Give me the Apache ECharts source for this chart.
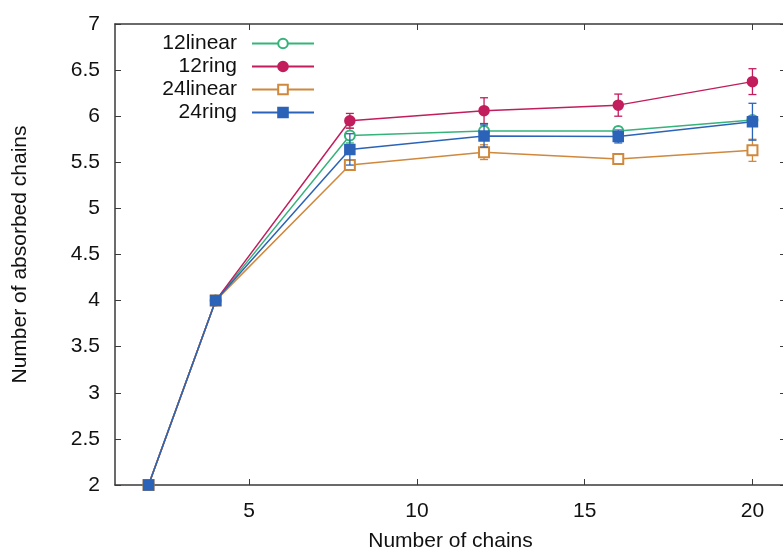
<!DOCTYPE html>
<html>
<head>
<meta charset="utf-8">
<script src="https://cdn.jsdelivr.net/npm/echarts@6/dist/echarts.min.js"></script>
<style>
html,body{margin:0;padding:0;background:#fff;}
#chart{width:783px;height:551px;}
</style>
</head>
<body>
<div id="chart"></div>
<script>
// ---- data ----
const chainCounts = [2, 4, 8, 12, 16, 20];
const linear12 = [2, 4, 5.79, 5.84, 5.84, 5.96];
const ring12 = [2, 4, 5.95, 6.06, 6.12, 6.375];
const linear24 = [2, 4, 5.47, 5.61, 5.535, 5.63];
const ring24 = [2, 4, 5.64, 5.785, 5.78, 5.94];
const linear12Err = [0, 0, 0.08, 0.08, 0.04, 0.04];
const ring12Err = [0, 0, 0.08, 0.14, 0.12, 0.14];
const linear24Err = [0, 0, 0.04, 0.08, 0.03, 0.12];
const ring24Err = [0, 0, 0.17, 0.12, 0.07, 0.2];
const xTicks = [5, 10, 15, 20];
const seriesNames = ['12linear', '12ring', '24linear', '24ring'];

const colors = ['#35b37a', '#c21d5c', '#d0883c', '#2b63b8'];
const symbols = ['emptyCircle', 'circle', 'emptyRect', 'rect'];
const values = [linear12, ring12, linear24, ring24];
const errs = [linear12Err, ring12Err, linear24Err, ring24Err];

const font = 'Liberation Sans, Arial, Helvetica, sans-serif';
const axisColor = '#3a3a3a';

function errRender(color) {
  return function (params, api) {
    const x = api.value(0), y = api.value(1), e = api.value(2);
    if (!e) return null;
    const top = api.coord([x, y + e]);
    const bot = api.coord([x, y - e]);
    const w = 4;
    const style = { stroke: color, lineWidth: 1.3, fill: null };
    return {
      type: 'group',
      children: [
        { type: 'line', shape: { x1: top[0], y1: top[1], x2: bot[0], y2: bot[1] }, style: style },
        { type: 'line', shape: { x1: top[0] - w, y1: top[1], x2: top[0] + w, y2: top[1] }, style: style },
        { type: 'line', shape: { x1: bot[0] - w, y1: bot[1], x2: bot[0] + w, y2: bot[1] }, style: style }
      ]
    };
  };
}

const series = [];
seriesNames.forEach(function (name, k) {
  series.push({
    name: name + ' error',
    type: 'custom',
    renderItem: errRender(colors[k]),
    data: chainCounts.map(function (x, i) { return [x, values[k][i], errs[k][i]]; }),
    z: 2 + k * 2
  });
});
seriesNames.forEach(function (name, k) {
  series.push({
    name: name,
    type: 'line',
    data: chainCounts.map(function (x, i) { return [x, values[k][i]]; }),
    symbol: symbols[k],
    symbolSize: 10,
    showAllSymbol: true,
    color: colors[k],
    lineStyle: { width: 1.5, color: colors[k] },
    itemStyle: { color: colors[k], borderColor: colors[k], borderWidth: 1.5 },
    z: 3 + k * 2,
    animation: false
  });
});

const chart = echarts.init(document.getElementById('chart'), null, { renderer: 'canvas' });
chart.setOption({
  animation: false,
  backgroundColor: '#fff',
  grid: { left: 115, top: 24, right: -3, bottom: 66, containLabel: false, outerBoundsMode: 'none' },
  legend: {
    data: seriesNames,
    orient: 'vertical',
    align: 'right',
    right: 468,
    top: 32,
    padding: 0,
    itemGap: 0,
    itemWidth: 62,
    itemHeight: 12,
    selectedMode: false,
    textStyle: { fontFamily: font, fontSize: 21, color: '#111', lineHeight: 23, padding: [0, 10, 0, 0] }
  },
  xAxis: [{
    type: 'value', min: 1, max: 21, position: 'bottom',
    name: 'Number of chains', nameLocation: 'middle', nameGap: 46,
    nameTextStyle: { fontFamily: font, fontSize: 21, color: '#111' },
    axisLine: { show: true, onZero: false, lineStyle: { color: axisColor, width: 1.5 } },
    axisTick: { show: true, inside: true, length: 6, customValues: xTicks, lineStyle: { color: axisColor, width: 1 } },
    axisLabel: { customValues: xTicks, margin: 16, fontFamily: font, fontSize: 21, color: '#111' },
    splitLine: { show: false }
  }, {
    type: 'value', min: 1, max: 21, position: 'top',
    axisLine: { show: true, onZero: false, lineStyle: { color: axisColor, width: 1.5 } },
    axisTick: { show: true, inside: true, length: 6, customValues: xTicks, lineStyle: { color: axisColor, width: 1 } },
    axisLabel: { show: false },
    splitLine: { show: false }
  }],
  yAxis: [{
    type: 'value', min: 2, max: 7, interval: 0.5, position: 'left',
    name: 'Number of absorbed chains', nameLocation: 'middle', nameGap: 84,
    nameTextStyle: { fontFamily: font, fontSize: 21, color: '#111' },
    axisLine: { show: true, onZero: false, lineStyle: { color: axisColor, width: 1.5 } },
    axisTick: { show: true, inside: true, length: 6, lineStyle: { color: axisColor, width: 1 } },
    axisLabel: { margin: 15, fontFamily: font, fontSize: 21, color: '#111' },
    splitLine: { show: false }
  }, {
    type: 'value', min: 2, max: 7, interval: 0.5, position: 'right',
    axisLine: { show: true, onZero: false, lineStyle: { color: axisColor, width: 1.5 } },
    axisTick: { show: true, inside: true, length: 6, lineStyle: { color: axisColor, width: 1 } },
    axisLabel: { show: false },
    splitLine: { show: false }
  }],
  series: series
});
</script>
</body>
</html>
